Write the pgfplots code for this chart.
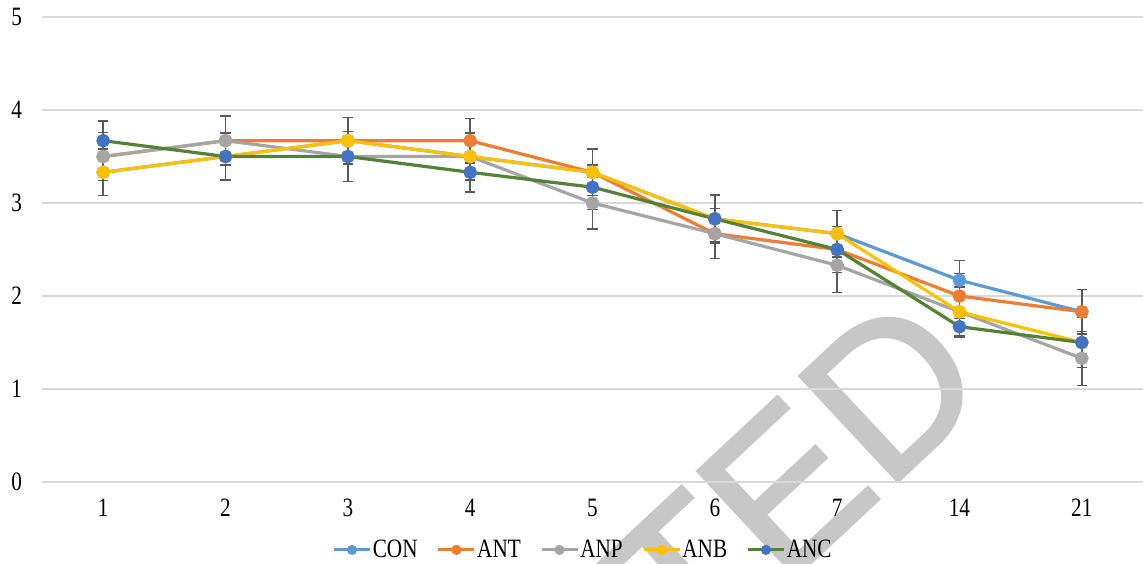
\documentclass[border=0pt]{standalone}
\usepackage{fontspec}
\setmainfont{Liberation Serif}[FakeStretch=0.8]
\newfontfamily\wm{Liberation Sans}[FakeBold=1.5]
\usepackage{pgfplots}
\usepackage{pgfplotstable}
\pgfplotsset{compat=1.18}
\definecolor{ccon}{HTML}{5B9BD5}
\definecolor{cant}{HTML}{ED7D31}
\definecolor{canp}{HTML}{A5A5A5}
\definecolor{canb}{HTML}{FFC000}
\definecolor{cancm}{HTML}{4472C4}
\definecolor{cancl}{HTML}{548235}
\definecolor{cerr}{HTML}{595959}
\definecolor{cgrid}{HTML}{D9D9D9}

\pgfplotstableread{
x y e
0 3.33 0.25
1 3.50 0.25
2 3.67 0.25
3 3.50 0.25
4 3.33 0.25
5 2.83 0.25
6 2.67 0.25
7 2.17 0.21
8 1.83 0.24
}\con
\pgfplotstableread{
x y e
0 3.50 0.26
1 3.67 0.27
2 3.67 0.25
3 3.67 0.24
4 3.33 0.25
5 2.67 0.27
6 2.50 0.25
7 2.00 0.24
8 1.83 0.24
}\ant
\pgfplotstableread{
x y e
0 3.50 0.26
1 3.67 0.26
2 3.50 0.27
3 3.50 0.26
4 3.00 0.28
5 2.67 0.27
6 2.33 0.29
7 1.83 0.26
8 1.33 0.29
}\anp
\pgfplotstableread{
x y e
0 3.33 0.25
1 3.50 0.26
2 3.67 0.25
3 3.50 0.26
4 3.33 0.25
5 2.83 0.26
6 2.67 0.25
7 1.83 0.27
8 1.50 0.27
}\anb
\pgfplotstableread{
x y e
0 3.67 0.21
1 3.50 0.26
2 3.50 0.27
3 3.33 0.21
4 3.17 0.24
5 2.83 0.26
6 2.50 0.25
7 1.67 0.11
8 1.50 0.12
}\anc

\begin{document}
\begin{tikzpicture}
\path[use as bounding box] (-21bp,-41bp) rectangle (550.5bp,241bp);
\node[rotate=43, text=black!22, inner sep=0pt, anchor=base east, font=\wm\fontsize{105}{105}\selectfont] at (477.1bp,46.2bp) {ACCEPTED};
\begin{axis}[
  at={(0,0)}, anchor=south west,
  scale only axis,
  width=550.5bp, height=232.5bp,
  xmin=-0.5, xmax=8.5, ymin=0, ymax=5,
  xtick={0,...,8}, xticklabels={1,2,3,4,5,6,7,14,21},
  ytick={0,1,2,3,4,5},
  ymajorgrids,
  major grid style={color=cgrid, line width=0.75bp},
  axis line style={draw=none},
  tick style={draw=none},
  /pgf/number format/assume math mode=true,
  tick label style={font=\fontsize{13.3}{15}\selectfont},
  yticklabel style={xshift=-6.5bp},
  xticklabel style={yshift=-5bp},
  clip=false,
  legend columns=5,
  legend style={at={(0.491,-0.146)}, anchor=center, draw=none, fill=none,
    font=\fontsize{13.3}{15}\selectfont, inner sep=0pt,
    nodes={inner xsep=0.6bp},
    /tikz/every even column/.append style={column sep=9bp}},
  legend cell align=left,
  legend image code/.code={\draw[#1, mark size=1.7bp, mark repeat=2, mark phase=2]
    plot coordinates {(0bp,0bp) (9bp,0bp) (18bp,0bp)};},
  every axis plot/.append style={line width=1.6bp, mark=*, mark size=2.6bp},
  error bars/y dir=both, error bars/y explicit,
  error bars/error bar style={color=cerr, line width=0.7bp},
  error bars/error mark options={rotate=90, mark size=2.6bp, color=cerr, line width=0.7bp},
]
\addplot[color=ccon, mark options={fill=ccon, draw=ccon}] table[x=x,y=y,y error=e] {\con};
\addlegendentry{CON}
\addplot[color=cant, mark options={fill=cant, draw=cant}] table[x=x,y=y,y error=e] {\ant};
\addlegendentry{ANT}
\addplot[color=canp, mark options={fill=canp, draw=canp}] table[x=x,y=y,y error=e] {\anp};
\addlegendentry{ANP}
\addplot[color=canb, mark options={fill=canb, draw=canb}] table[x=x,y=y,y error=e] {\anb};
\addlegendentry{ANB}
\addplot[color=cancl, mark options={fill=cancm, draw=cancm}] table[x=x,y=y,y error=e] {\anc};
\addlegendentry{ANC}
\end{axis}
\end{tikzpicture}
\end{document}
